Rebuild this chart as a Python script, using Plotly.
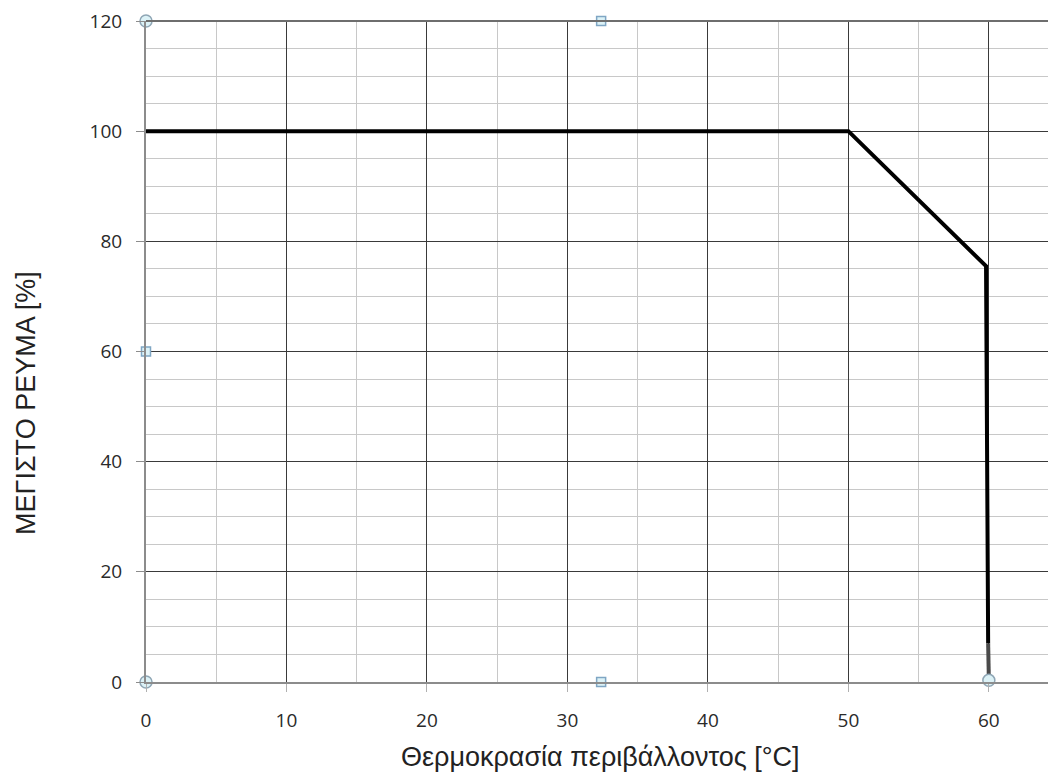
import plotly.graph_objects as go

# derating curve
temp = [0, 50, 59.8, 59.95]
current = [100, 100, 75.5, 7]
# lower tail of the vertical drop (drawn lighter in the reference)
tail_temp = [59.95, 60]
tail_current = [7, 0.5]

# selection handles seen on the reference (corner circles, side squares)
handle_circle_x = [0, 0, 60]
handle_circle_y = [120, 0, 0.3]
handle_square_x = [32.4, 32.4, 0, 64.8]
handle_square_y = [120, 0, 60, 60]

x_ticks = [0, 10, 20, 30, 40, 50, 60]
y_ticks = [0, 20, 40, 60, 80, 100, 120]

fig = go.Figure()

fig.add_trace(go.Scatter(
    x=temp, y=current, mode='lines',
    line=dict(color='black', width=4),
    showlegend=False, cliponaxis=False
))
fig.add_trace(go.Scatter(
    x=tail_temp, y=tail_current, mode='lines',
    line=dict(color='#4a4a4a', width=4),
    showlegend=False, cliponaxis=False
))

fig.add_trace(go.Scatter(
    x=handle_circle_x, y=handle_circle_y, mode='markers',
    marker=dict(symbol='circle', size=12, color='#dcf2f7',
                line=dict(color='#8fa6b5', width=1.5)),
    showlegend=False, cliponaxis=False
))
fig.add_trace(go.Scatter(
    x=handle_square_x, y=handle_square_y, mode='markers',
    marker=dict(symbol='square', size=9, color='#dcf2f7',
                line=dict(color='#7fa6c4', width=1.5)),
    showlegend=False, cliponaxis=False
))

tick_font = dict(family='Open Sans, Lato, sans-serif', size=19, color='#2a2a2a')
title_font = dict(family='Liberation Sans, Arial, sans-serif', size=27, color='#222222')

fig.update_layout(
    width=1048, height=768,
    margin=dict(l=138, r=0, t=13, b=94),
    plot_bgcolor='white', paper_bgcolor='white',
    xaxis=dict(
        range=[0, 64.78], tickvals=x_ticks, tickfont=tick_font,
        showgrid=True, gridcolor='#3a3a3a', gridwidth=1.2,
        minor=dict(dtick=5, showgrid=True, gridcolor='#c8c8c8', gridwidth=1.2),
        ticks='outside', ticklen=8, tickcolor='#b0b0b0', ticklabelstandoff=12,
        ticklabeloverflow='allow',
        showline=True, linecolor='#8c8c8c', linewidth=2,
        mirror=False, zeroline=False,
    ),
    yaxis=dict(
        range=[0, 120], tickvals=y_ticks, tickfont=tick_font,
        showgrid=True, gridcolor='#3a3a3a', gridwidth=1.2,
        minor=dict(dtick=5, showgrid=True, gridcolor='#c8c8c8', gridwidth=1.2),
        ticks='outside', ticklen=8, tickcolor='#8c8c8c', ticklabelstandoff=10,
        ticklabeloverflow='allow',
        showline=True, linecolor='#8c8c8c', linewidth=2,
        zeroline=False,
    ),
)

# axis titles placed as in the reference
fig.add_annotation(text='Θερμοκρασία περιβάλλοντος [°C]', xref='paper', yref='paper',
                   x=0.499, y=-0.113, xanchor='center', yanchor='middle',
                   showarrow=False, font=title_font)
fig.add_annotation(text='ΜΕΓΙΣΤΟ ΡΕΥΜΑ [%]', xref='paper', yref='paper',
                   x=-0.132, y=0.422, xanchor='center', yanchor='middle',
                   textangle=-90, showarrow=False, font=title_font)

# top border of the plot area
fig.add_shape(type='line', xref='paper', yref='paper', x0=0, x1=1, y0=1, y1=1,
              line=dict(color='#6e6e6e', width=2))

fig.write_html("out.html")
